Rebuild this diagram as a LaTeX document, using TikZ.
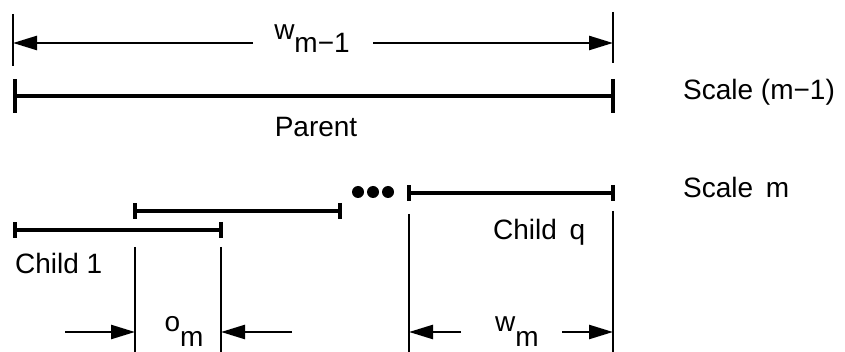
\documentclass[tikz,border=0pt]{standalone}
\usepackage{fontspec}
\setmainfont{Liberation Sans}
\usetikzlibrary{arrows.meta}
\begin{document}
\begin{tikzpicture}[x=1pt,y=-1pt,
  lbl/.style={inner sep=0pt, font=\fontsize{28}{34}\selectfont},
  bigbar/.style={line width=4pt, {Bar[width=34pt]}-{Bar[width=34pt]}},
  childbar/.style={line width=4pt, {Bar[width=16pt]}-{Bar[width=16pt]}},
  thinline/.style={line width=2pt},
  dimarrow/.style={line width=2.5pt, -{Triangle[length=24pt,width=14pt]}},
  dotnode/.style={circle, fill=black, inner sep=0pt, minimum size=12pt}
]
\useasboundingbox (0,0) rectangle (845,352);

% top dimension w_{m-1}
\coordinate (tlt) at (13,14); \coordinate (tlb) at (13,66);
\coordinate (trt) at (613,12); \coordinate (trb) at (613,63);
\draw[thinline] (tlt) -- (tlb);
\draw[thinline] (trt) -- (trb);
\coordinate (wla) at (253,43); \coordinate (wlt) at (13,43);
\coordinate (wra) at (373,43); \coordinate (wrt) at (613,43);
\draw[dimarrow] (wla) -- (wlt);
\draw[dimarrow] (wra) -- (wrt);
\node[lbl, anchor=base] (wmone) at (312,46) {\raisebox{6.5pt}{w}\raisebox{-6.5pt}{m−1}};

% parent
\coordinate (pl) at (13,96); \coordinate (pr) at (615,96);
\draw[bigbar] (pl) -- (pr);
\node[lbl] (parent) at (316,127) {Parent};
\node[lbl, anchor=base west] (scaleone) at (683,100) {Scale (m−1)};

% children
\coordinate (c1l) at (13,230); \coordinate (c1r) at (223,230);
\draw[childbar] (c1l) -- (c1r);
\coordinate (c2l) at (133,211); \coordinate (c2r) at (342,211);
\draw[childbar] (c2l) -- (c2r);
\coordinate (cql) at (407,193); \coordinate (cqr) at (615,193);
\draw[childbar] (cql) -- (cqr);
\node[dotnode] (d1) at (358,192) {};
\node[dotnode] (d2) at (373,192) {};
\node[dotnode] (d3) at (388,192) {};
\node[lbl, anchor=base west] (scalem) at (683,198) {Scale\hspace{0.45em}m};
\node[lbl, anchor=base west] (childq) at (493,240) {Child\hspace{0.45em}q};
\node[lbl, anchor=base west] (childone) at (15,274) {Child 1};

% extension lines
\coordinate (e1t) at (135,247); \coordinate (e1b) at (135,352);
\coordinate (e2t) at (221,247); \coordinate (e2b) at (221,352);
\coordinate (e3t) at (409,214); \coordinate (e3b) at (409,352);
\coordinate (e4t) at (613,211); \coordinate (e4b) at (613,352);
\draw[thinline] (e1t) -- (e1b);
\draw[thinline] (e2t) -- (e2b);
\draw[thinline] (e3t) -- (e3b);
\draw[thinline] (e4t) -- (e4b);

% bottom dimensions
\coordinate (oa) at (65,332); \coordinate (ot) at (135,332);
\coordinate (ob) at (292,332); \coordinate (oc) at (221,332);
\draw[dimarrow] (oa) -- (ot);
\draw[dimarrow] (ob) -- (oc);
\node[lbl, anchor=base] (om) at (184,338.5) {\raisebox{7.5pt}{o}\raisebox{-7.5pt}{m}};
\coordinate (wa) at (461,332); \coordinate (wt) at (409,332);
\coordinate (wb) at (562,332); \coordinate (wc) at (613,332);
\draw[dimarrow] (wa) -- (wt);
\draw[dimarrow] (wb) -- (wc);
\node[lbl, anchor=base] (wm) at (517,338.5) {\raisebox{7.5pt}{w}\raisebox{-7.5pt}{m}};
\end{tikzpicture}
\end{document}
